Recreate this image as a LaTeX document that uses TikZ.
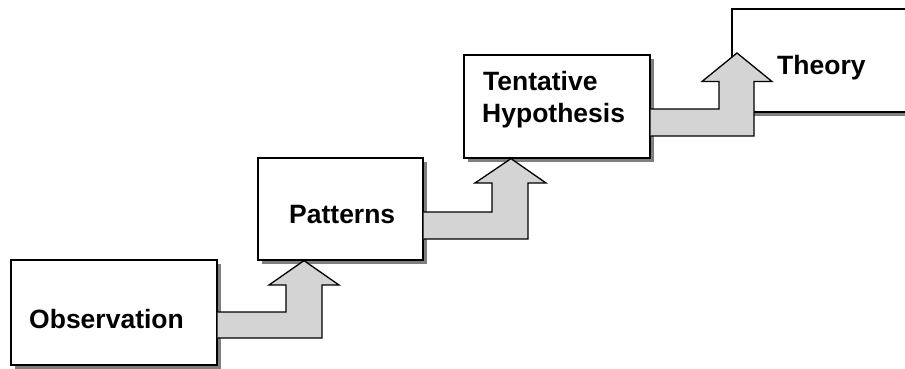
\documentclass[tikz,border=0pt]{standalone}
\usepackage{fontspec}
\setmainfont{Liberation Sans}
\usetikzlibrary{shadows}
\definecolor{shadowgray}{HTML}{7F7F7F}
\definecolor{arrowgray}{HTML}{D4D4D4}
\begin{document}
\begin{tikzpicture}[x=1pt,y=-1pt,
  box/.style={draw=black, line width=1.6pt, fill=white, inner sep=0pt, anchor=north west,
    general shadow={fill=shadowgray, shadow xshift=4pt, shadow yshift=-4pt}},
  label/.style={font=\bfseries\fontsize{26.5}{32}\selectfont, inner sep=0pt, anchor=base west},
  steparrow/.style={draw=black, line width=1.3pt, fill=arrowgray, line join=miter}]
\useasboundingbox (0,0) rectangle (905,368);
\clip (0,0) rectangle (905,368);
% boxes
\node[box, minimum width=206pt, minimum height=105pt] (obs) at (10,259) {};
\node[box, minimum width=165pt, minimum height=102pt] (pat) at (257,157) {};
\node[box, minimum width=186pt, minimum height=103pt] (hyp) at (463,54) {};
\node[box, minimum width=220pt, minimum height=103pt] (the) at (731,8) {};
% texts
\node[label] (tobs) at (29,328) {Observation};
\node[label] (tpat) at (289,223) {Patterns};
\node[label] (thyp1) at (483,90) {Tentative};
\node[label] (thyp2) at (482,122) {Hypothesis};
\node[label] (tthe) at (777,74) {Theory};
% step arrows
\filldraw[steparrow] (obs.east |- 0,338) -- (322,338) -- (322,285) -- (339,285)
  -- (304,0 |- pat.south) -- (269,285) -- (286,285) -- (286,312) -- (obs.east |- 0,312);
\filldraw[steparrow] (pat.east |- 0,239) -- (528,239) -- (528,183) -- (546,183)
  -- (511,0 |- hyp.south) -- (475,183) -- (492,183) -- (492,212) -- (pat.east |- 0,212);
\filldraw[steparrow] (hyp.east |- 0,136) -- (754,136) -- (754,81.5) -- (772,81.5)
  -- (737,53) -- (702,81.5) -- (719,81.5) -- (719,109) -- (hyp.east |- 0,109);
\end{tikzpicture}
\end{document}
